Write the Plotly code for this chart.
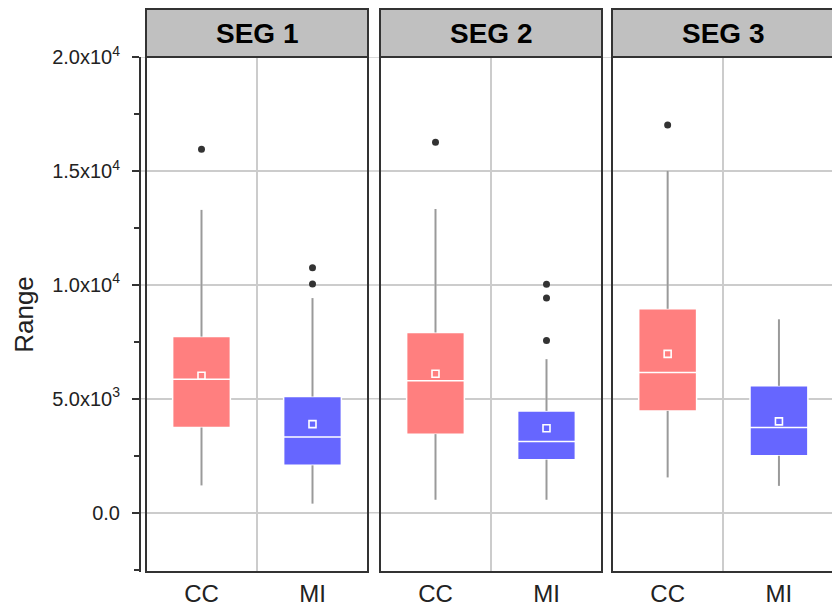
import plotly.graph_objects as go

# ---------------- data ----------------
segments = ["SEG 1", "SEG 2", "SEG 3"]
groups = ["CC", "MI"]

cc_lower = [1200, 570, 1550]
cc_q1 = [3740, 3450, 4470]
cc_median = [5860, 5790, 6150]
cc_q3 = [7730, 7910, 8950]
cc_upper = [13290, 13330, 15000]
cc_mean = [6010, 6100, 6970]
cc_outliers = [[15950], [16260], [17020]]

mi_lower = [400, 570, 1180]
mi_q1 = [2080, 2330, 2500]
mi_median = [3320, 3130, 3740]
mi_q3 = [5100, 4470, 5570]
mi_upper = [9420, 6740, 8490]
mi_mean = [3890, 3710, 4010]
mi_outliers = [[10040, 10750], [7560, 9420, 10030], []]

y_tickvals = [0, 5000, 10000, 15000, 20000]
y_ticktext = ["0.0", "5.0x10<sup>3</sup>", "1.0x10<sup>4</sup>",
              "1.5x10<sup>4</sup>", "2.0x10<sup>4</sup>"]

# ---------------- style ----------------
W, H = 832, 611
FONT = "Liberation Sans, Arial, sans-serif"
fills = {"CC": "#FF7F7F", "MI": "#6666FF"}
stats = {
    "CC": (cc_lower, cc_q1, cc_median, cc_q3, cc_upper, cc_mean, cc_outliers),
    "MI": (mi_lower, mi_q1, mi_median, mi_q3, mi_upper, mi_mean, mi_outliers),
}

plot_top, plot_bot = 57, 572
ydom = [(H - plot_bot) / H, (H - plot_top) / H]
panel_px = [(146, 368), (380, 602), (612, 834.6)]
axis_x_px = 140
header_px = 48
plot_h = plot_bot - plot_top

fig = go.Figure()

for i, seg in enumerate(segments):
    xa = "x" if i == 0 else f"x{i+1}"
    ya = "y" if i == 0 else f"y{i+1}"
    for g in groups:
        lo, q1, med, q3, up, mean, outl = stats[g]
        fig.add_trace(go.Box(
            x=[g], q1=[q1[i]], median=[med[i]], q3=[q3[i]],
            lowerfence=[lo[i]], upperfence=[up[i]],
            fillcolor=fills[g], line=dict(color="white", width=1.5),
            width=0.52, whiskerwidth=0, boxpoints=False,
            xaxis=xa, yaxis=ya, showlegend=False, hoverinfo="y"))
        fig.add_trace(go.Scatter(
            x=[g, g, None, g, g], y=[lo[i], q1[i], None, q3[i], up[i]],
            mode="lines", line=dict(color="#9a9a9a", width=2),
            xaxis=xa, yaxis=ya, showlegend=False, hoverinfo="skip"))
        fig.add_trace(go.Scatter(
            x=[g], y=[mean[i]], mode="markers",
            marker=dict(symbol="square-open", size=7, color="white",
                        line=dict(width=1.6)),
            xaxis=xa, yaxis=ya, showlegend=False))
        if outl[i]:
            fig.add_trace(go.Scatter(
                x=[g] * len(outl[i]), y=outl[i], mode="markers",
                marker=dict(symbol="circle", size=7, color="#333333"),
                xaxis=xa, yaxis=ya, showlegend=False))

layout = dict(
    width=W, height=H,
    margin=dict(l=0, r=0, t=0, b=0),
    paper_bgcolor="white", plot_bgcolor="rgba(0,0,0,0)",
    font=dict(family=FONT, color="#222222"),
    boxmode="overlay",
    showlegend=False,
)

shapes = []
annotations = []
yrange = [-2600, 20000]

for i, seg in enumerate(segments):
    xk = "xaxis" if i == 0 else f"xaxis{i+1}"
    yk = "yaxis" if i == 0 else f"yaxis{i+1}"
    xref = "x" if i == 0 else f"x{i+1}"
    yref = "y" if i == 0 else f"y{i+1}"
    x0p, x1p = panel_px[i]
    d0, d1 = x0p / W, min(x1p, W) / W
    dom_w = (min(x1p, W) - x0p)
    cat_w = (x1p - x0p) / 2
    xr = [-0.5, -0.5 + dom_w / cat_w]
    layout[xk] = dict(
        domain=[d0, d1], anchor=yref, type="category",
        categoryorder="array", categoryarray=groups, range=xr,
        showgrid=True, gridcolor="#cccccc", gridwidth=1.5,
        tickson="boundaries", ticks="", showline=False, zeroline=False,
        ticklabelstandoff=5,
        tickfont=dict(size=24, color="#222222", family=FONT),
        automargin=False, fixedrange=True)
    ycfg = dict(
        domain=ydom, range=yrange, showgrid=True, gridcolor="#cccccc",
        gridwidth=1.5, zeroline=False, tickvals=y_tickvals,
        automargin=False, fixedrange=True)
    if i == 0:
        ycfg.update(
            anchor="free", position=axis_x_px / W, ticktext=y_ticktext,
            showline=True, linecolor="#333333", linewidth=2,
            ticks="outside", ticklen=7, tickwidth=2, tickcolor="#333333",
            ticklabelstandoff=8,
            tickfont=dict(size=20, color="#222222", family=FONT),
            minor=dict(dtick=2500, tick0=0, ticks="outside", ticklen=5,
                       tickwidth=2, tickcolor="#333333", showgrid=False),
            title=dict(text="Range", font=dict(size=26, color="#222222",
                                               family=FONT), standoff=10))
    else:
        ycfg.update(anchor=xref, matches="y", showticklabels=False,
                    ticks="", showline=False)
    layout[yk] = ycfg

    xr_end = (x1p - x0p) / dom_w
    # panel border
    shapes.append(dict(type="rect", xref=f"{xref} domain", yref=f"{yref} domain",
                       x0=0, x1=xr_end, y0=0, y1=1,
                       line=dict(color="#333333", width=2), layer="above"))
    # header strip
    shapes.append(dict(type="rect", xref=f"{xref} domain", yref=f"{yref} domain",
                       x0=0, x1=xr_end, y0=1, y1=1 + header_px / plot_h,
                       fillcolor="#c0c0c0",
                       line=dict(color="#333333", width=2), layer="above"))
    annotations.append(dict(
        text=seg, xref=f"{xref} domain", yref=f"{yref} domain",
        x=xr_end / 2, y=1 + header_px / 2 / plot_h, showarrow=False,
        xanchor="center", yanchor="middle",
        font=dict(size=28, color="black", family=FONT, weight="bold")))

# horizontal grid continuation across the gaps between panels
for v in y_tickvals:
    shapes.append(dict(type="line", xref="paper", yref="y",
                       x0=axis_x_px / W, x1=1, y0=v, y1=v,
                       line=dict(color="#cccccc", width=1.5), layer="below"))

layout["shapes"] = shapes
layout["annotations"] = annotations
fig.update_layout(**layout)

fig.write_html("out.html",
               config={"displayModeBar": False},
               post_script="document.body.style.margin='0';"
                           "document.body.style.overflow='hidden';")
